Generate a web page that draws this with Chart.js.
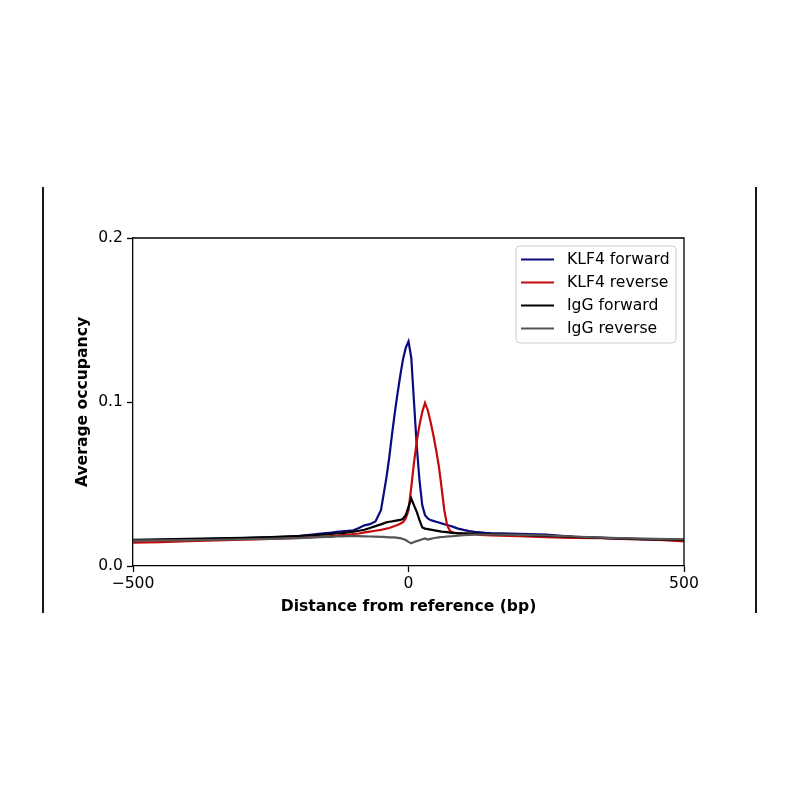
<!DOCTYPE html>
<html>
<head>
<meta charset="utf-8">
<script src="https://cdn.jsdelivr.net/npm/chart.js@4.4.1/dist/chart.umd.min.js"></script>
<style>
  html, body { margin: 0; padding: 0; background: #fff; }
  #wrap { position: relative; width: 800px; height: 800px; }
</style>
</head>
<body>
<div id="wrap"><canvas id="occupancy" width="800" height="800"></canvas></div>
<script>
// distance from reference (bp), shared by all four profiles
const distance = [-500,-450,-400,-350,-300,-250,-200,-150,
  -140,-130,-120,-110,-100,-90,-80,-70,-60,-50,
  -45,-40,-35,-30,-25,-20,-15,-10,-5,0,5,10,15,20,25,30,35,40,45,50,55,60,65,70,75,80,
  90,100,110,120,130,140,150,
  200,250,300,350,400,450,500];

const klf4Forward = [0.0155,0.0160,0.0163,0.0165,0.0170,0.0174,0.0182,0.0200,
  0.0203,0.0208,0.0212,0.0215,0.0218,0.0232,0.0248,0.0255,0.0272,0.0340,
  0.0440,0.0540,0.0660,0.0800,0.0930,0.1050,0.1160,0.1260,0.1330,0.1370,0.1270,0.1000,0.0730,0.0520,0.0370,0.0310,0.0290,0.0280,0.0275,0.0270,0.0265,0.0260,0.0255,0.0250,0.0245,0.0240,
  0.0228,0.0220,0.0213,0.0208,0.0205,0.0202,0.0200,
  0.0196,0.0192,0.0178,0.0172,0.0167,0.0160,0.0160];

const klf4Reverse = [0.0142,0.0146,0.0152,0.0156,0.0160,0.0166,0.0172,0.0180,
  0.0182,0.0184,0.0188,0.0190,0.0195,0.0198,0.0205,0.0210,0.0215,0.0220,
  0.0224,0.0228,0.0232,0.0238,0.0244,0.0250,0.0258,0.0268,0.0290,0.0340,0.0480,0.0630,0.0760,0.0860,0.0940,0.0995,0.0950,0.0880,0.0800,0.0710,0.0610,0.0480,0.0340,0.0250,0.0215,0.0205,
  0.0198,0.0197,0.0196,0.0194,0.0190,0.0188,0.0186,
  0.0182,0.0176,0.0172,0.0170,0.0164,0.0160,0.0150];

const iggForward = [0.0160,0.0162,0.0165,0.0168,0.0171,0.0176,0.0183,0.0192,
  0.0195,0.0198,0.0201,0.0205,0.0210,0.0215,0.0221,0.0232,0.0243,0.0254,
  0.0260,0.0266,0.0270,0.0272,0.0275,0.0278,0.0281,0.0288,0.0310,0.0360,0.0412,0.0370,0.0330,0.0280,0.0235,0.0228,0.0225,0.0222,0.0219,0.0216,0.0213,0.0210,0.0208,0.0206,0.0204,0.0202,
  0.0200,0.0199,0.0198,0.0197,0.0196,0.0195,0.0194,
  0.0190,0.0184,0.0178,0.0172,0.0166,0.0162,0.0160];

const iggReverse = [0.0155,0.0156,0.0158,0.0160,0.0163,0.0166,0.0170,0.0177,
  0.0178,0.0180,0.0181,0.0182,0.0183,0.0182,0.0181,0.0180,0.0179,0.0178,
  0.0177,0.0176,0.0175,0.0175,0.0174,0.0172,0.0170,0.0165,0.0158,0.0147,0.0138,0.0146,0.0152,0.0157,0.0163,0.0168,0.0161,0.0165,0.0169,0.0172,0.0175,0.0177,0.0178,0.0180,0.0181,0.0182,
  0.0185,0.0188,0.0190,0.0191,0.0192,0.0192,0.0192,
  0.0190,0.0186,0.0180,0.0173,0.0168,0.0165,0.0163];

const seriesNames = ['KLF4 forward', 'KLF4 reverse', 'IgG forward', 'IgG reverse'];
const seriesColors = ['#0a0a80', '#c40a0a', '#000000', '#555555'];
const xTicks = [-500, 0, 500];
const yTicks = [0, 0.1, 0.2];

const FONT = "'DejaVu Sans', sans-serif";
const FS = 15.6;

const toPoints = ys => ys.map((y, i) => ({ x: distance[i], y }));
const allSeries = [klf4Forward, klf4Reverse, iggForward, iggReverse];

// frame, inset legend and the two page rules
const decorations = {
  id: 'decorations',
  afterDraw(chart) {
    const { ctx, chartArea: a } = chart;
    ctx.save();
    ctx.strokeStyle = '#000';
    ctx.lineWidth = 1.3;
    ctx.beginPath();
    ctx.moveTo(a.left, a.top); ctx.lineTo(a.right, a.top); ctx.lineTo(a.right, a.bottom);
    ctx.stroke();

    ctx.lineWidth = 1.8;
    ctx.beginPath();
    ctx.moveTo(43, 187); ctx.lineTo(43, 613);
    ctx.moveTo(756, 187); ctx.lineTo(756, 613);
    ctx.stroke();

    // legend box
    const w = 160, h = 97;
    const x0 = a.right - 8 - w, y0 = a.top + 8;
    ctx.beginPath();
    ctx.roundRect(x0, y0, w, h, 4);
    ctx.fillStyle = 'rgba(255,255,255,0.8)';
    ctx.fill();
    ctx.strokeStyle = '#cccccc';
    ctx.lineWidth = 1;
    ctx.stroke();

    ctx.font = FS + 'px ' + FONT;
    ctx.textBaseline = 'middle';
    ctx.textAlign = 'left';
    seriesNames.forEach((name, i) => {
      const yy = y0 + 13.5 + i * 23;
      ctx.strokeStyle = seriesColors[i];
      ctx.lineWidth = 2;
      ctx.beginPath();
      ctx.moveTo(x0 + 5, yy); ctx.lineTo(x0 + 38, yy);
      ctx.stroke();
      ctx.fillStyle = '#000';
      ctx.fillText(name, x0 + 51, yy);
    });
    ctx.restore();
  }
};

new Chart(document.getElementById('occupancy'), {
  type: 'line',
  data: {
    datasets: allSeries.map((ys, i) => ({
      label: seriesNames[i],
      data: toPoints(ys),
      borderColor: seriesColors[i],
      borderWidth: 2.2,
      pointRadius: 0,
      tension: 0,
      order: 3 - i
    }))
  },
  options: {
    responsive: false,
    animation: false,
    layout: { padding: { left: 74, top: 238, right: 116, bottom: 184 } },
    plugins: { legend: { display: false }, tooltip: { enabled: false } },
    scales: {
      x: {
        type: 'linear',
        min: -500, max: 500,
        afterBuildTicks: s => { s.ticks = xTicks.map(v => ({ value: v })); },
        afterFit: s => { s.height = 50; s.paddingLeft = 0; s.paddingRight = 0; },
        grid: { display: true, drawOnChartArea: false, drawTicks: true, tickLength: 6, color: '#000', tickWidth: 1.3 },
        border: { display: true, color: '#000', width: 1.3 },
        ticks: {
          padding: 3, color: '#000', maxRotation: 0,
          font: { family: FONT, size: FS },
          callback: v => String(v).replace('-', '\u2212')
        },
        title: {
          display: true, text: 'Distance from reference (bp)', color: '#000',
          font: { family: FONT, size: FS, weight: 'bold' }, padding: 0
        }
      },
      y: {
        min: 0, max: 0.2,
        afterBuildTicks: s => { s.ticks = yTicks.map(v => ({ value: v })); },
        afterFit: s => { s.width = 59; s.paddingTop = 0; s.paddingBottom = 0; },
        grid: { display: true, drawOnChartArea: false, drawTicks: true, tickLength: 6, color: '#000', tickWidth: 1.3 },
        border: { display: true, color: '#000', width: 1.3 },
        ticks: {
          padding: 4, color: '#000',
          font: { family: FONT, size: FS },
          callback: v => v.toFixed(1)
        },
        title: {
          display: true, text: 'Average occupancy', color: '#000',
          font: { family: FONT, size: FS, weight: 'bold' }, padding: 0
        }
      }
    }
  },
  plugins: [decorations]
});
</script>
</body>
</html>
